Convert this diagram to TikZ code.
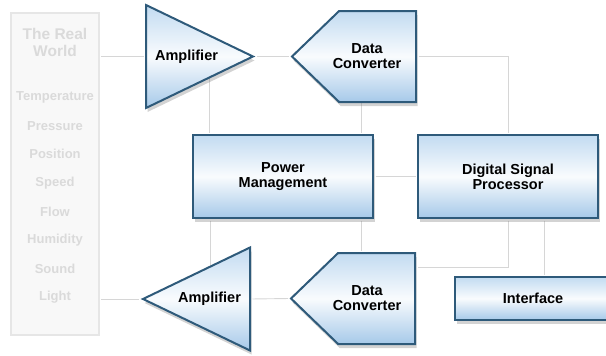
\documentclass[tikz,border=0pt]{standalone}
\usepackage{fontspec}
\setmainfont{Liberation Sans}
\usepackage{tikz}
\usetikzlibrary{shapes.geometric,shapes.symbols,shadows,backgrounds,positioning}

\definecolor{edgeblue}{HTML}{2E5A7A}
\definecolor{topblue}{HTML}{C2DBF1}
\definecolor{botblue}{HTML}{A6C9E9}
\definecolor{wirecol}{HTML}{D6D6D6}
\definecolor{worldfill}{HTML}{F8F8F8}
\definecolor{worldedge}{HTML}{E6E6E6}
\definecolor{worldtext}{HTML}{DADADA}

\begin{document}
\begin{tikzpicture}[x=1pt, y=-1pt,
  block/.style={draw=edgeblue, line width=2pt, top color=topblue, bottom color=botblue, middle color=white!90!topblue, drop shadow={shadow xshift=1.5pt, shadow yshift=-4pt, opacity=.35}, font=\fontsize{14.5}{15}\selectfont\bfseries, align=center, inner sep=0pt},
  box/.style={block, rectangle, minimum width=180pt, minimum height=83pt},
  amp/.style={block, isosceles triangle, isosceles triangle stretches, minimum width=103pt, minimum height=107pt},
  conv/.style={block, signal, signal to=west, signal from=nowhere, signal pointer angle=88, minimum width=124pt, minimum height=91pt},
  caption/.style={font=\fontsize{14.5}{15}\selectfont\bfseries, align=center, inner sep=0pt},
  wire/.style={draw=wirecol, line width=0.9pt, shorten <=1.5pt, shorten >=1.5pt},
  sense/.style={text=worldtext, font=\fontsize{13}{14}\selectfont\bfseries}]
  \useasboundingbox (0,0) rectangle (606,356);

  % the real world
  \node[rectangle, draw=worldedge, fill=worldfill, line width=1.2pt, minimum width=88pt, minimum height=322pt] (world) at (55,174) {};
  \node[sense, font=\fontsize{15.5}{17}\selectfont\bfseries, align=center] (heading) at (55,42) {The Real\\World};
  \foreach \sense [count=\i] in {Temperature,Pressure,Position,Speed,Flow,Humidity,Sound,Light}
    \node[sense] (sense\i) at (55,{97+28.6*(\i-1)}) {\sense};

  % signal chain
  \node[amp, anchor=lower side] (amp1) at (145,56.5) {Amplifier};
  \node[conv, anchor=east] (dc1) at (417,56.5) {};
  \node[caption] (dc1text) at (367,56) {Data\\Converter};
  \node[box] (pm) at (283,176.5) {Power\\Management};
  \node[box] (dsp) at (508,176.5) {Digital Signal\\Processor};
  \node[amp, shape border rotate=180, anchor=lower side] (amp2) at (251,299) {Amplifier};
  \node[conv, anchor=east] (dc2) at (416,298.5) {};
  \node[caption] (dc2text) at (367,298) {Data\\Converter};
  \node[box, minimum width=220pt, minimum height=43pt, anchor=west] (iface) at (454,298.5) {};
  \node[caption] (ifacetext) at (533,298.5) {Interface};

  \begin{scope}[on background layer]
    \draw[wire] (world.east |- amp1.lower side) -- (amp1.lower side);
    \draw[wire] (amp1.apex) -- (dc1.west);
    \draw[wire] (dc1.east) -| (dsp.north);
    \draw[wire] ([xshift=17pt]pm.north west |- amp1.lower side) -- ([xshift=17pt]pm.north west);
    \draw[wire] ([xshift=-13pt]pm.north east |- dc1.east) -- ([xshift=-13pt]pm.north east);
    \draw[wire] (pm.east) -- (dsp.west);
    \draw[wire] ([xshift=18pt]pm.south west) -- ([xshift=18pt]pm.south west |- amp2.lower side);
    \draw[wire] ([xshift=-13pt]pm.south east) -- ([xshift=-13pt]pm.south east |- dc2.north);
    \draw[wire] (dsp.south) |- ([yshift=31pt]dc2.east);
    \draw[wire] ([xshift=36pt]dsp.south) -- ([xshift=36pt]dsp.south |- iface.north);
    \draw[wire] (dc2.west) -- (amp2.lower side);
    \draw[wire] (amp2.apex) -- (world.east |- amp2.apex);
  \end{scope}
\end{tikzpicture}
\end{document}
